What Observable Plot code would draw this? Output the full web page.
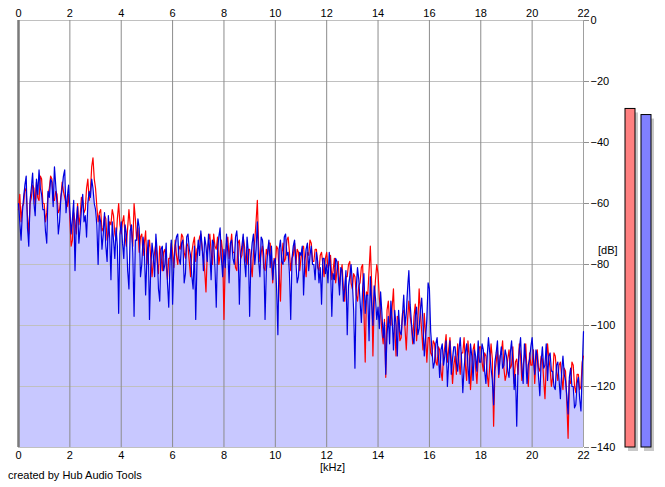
<!DOCTYPE html>
<html>
<head>
<meta charset="utf-8">
<script src="https://cdn.jsdelivr.net/npm/d3@7"></script>
<script src="https://cdn.jsdelivr.net/npm/@observablehq/plot@0.6"></script>
<style>
  html, body { margin: 0; padding: 0; background: #ffffff; }
  #wrap { position: relative; width: 665px; height: 487px; font-family: "Liberation Sans", Arial, sans-serif; font-size: 11px; color: #000; }
  #wrap svg { position: absolute; top: 0; }
  .lbl { position: absolute; white-space: nowrap; font-size: 11px; line-height: 12px; }
</style>
</head>
<body>
<div id="wrap"></div>
<script>
// Frequency grid (kHz), 0.05 kHz steps from 0 to 22
const freqKHz = d3.range(441).map(i => i / 20);

// Right channel (red), dB per 0.05 kHz bin (one row per kHz)
const redDb = [
  -62,-57,-66,-61,-60,-55,-56,-64,-70,-60,-58,-54,-55,-61,-53,-58,-59,-51,-52,-60,
  -60,-66,-63,-57,-55,-51,-52,-59,-59,-56,-57,-63,-62,-58,-53,-56,-58,-60,-61,-57,
  -65,-74,-72,-63,-66,-70,-60,-67,-64,-58,-59,-63,-62,-55,-52,-59,-56,-48,-45,-52,
  -55,-61,-66,-63,-62,-69,-68,-64,-65,-72,-70,-66,-67,-62,-64,-70,-72,-65,-60,-67,
  -70,-66,-64,-71,-74,-68,-62,-67,-69,-74,-60,-65,-72,-68,-76,-71,-70,-77,-73,-69,
  -80,-75,-72,-78,-84,-79,-76,-73,-79,-83,-74,-77,-82,-76,-75,-80,-85,-78,-78,-73,
  -76,-81,-72,-77,-80,-74,-75,-70,-71,-76,-78,-73,-74,-79,-84,-76,-73,-71,-79,-75,
  -74,-71,-70,-75,-77,-82,-89,-76,-72,-70,-76,-80,-70,-74,-75,-71,-80,-77,-72,-76,
  -98,-79,-73,-71,-78,-74,-70,-76,-76,-81,-82,-73,-72,-78,-77,-71,-74,-79,-80,-75,
  -75,-80,-84,-76,-72,-66,-59,-74,-79,-76,-74,-81,-82,-75,-77,-73,-73,-79,-86,-78,
  -80,-74,-75,-83,-92,-77,-73,-79,-78,-72,-71,-76,-82,-78,-77,-73,-80,-75,-76,-82,
  -78,-75,-74,-80,-84,-76,-77,-72,-73,-79,-79,-75,-75,-81,-82,-77,-76,-80,-84,-78,
  -76,-81,-80,-77,-85,-82,-78,-86,-82,-79,-87,-83,-80,-88,-92,-84,-84,-80,-79,-86,
  -88,-83,-84,-90,-92,-87,-86,-81,-80,-95,-112,-89,-90,-82,-74,-86,-110,-92,-85,-80,
  -83,-91,-96,-102,-106,-98,-117,-95,-92,-99,-100,-94,-88,-101,-110,-97,-98,-105,-104,-96,
  -95,-101,-108,-98,-92,-97,-100,-106,-97,-93,-105,-99,-88,-96,-102,-108,-96,-103,-112,-104,
  -104,-109,-110,-105,-106,-112,-113,-107,-108,-115,-118,-110,-107,-103,-112,-108,-104,-111,-119,-113,
  -110,-116,-106,-112,-116,-109,-109,-104,-113,-118,-105,-110,-121,-114,-108,-106,-114,-119,-111,-107,
  -107,-112,-115,-109,-110,-116,-120,-113,-106,-111,-133,-115,-112,-108,-117,-110,-109,-105,-114,-118,
  -116,-111,-108,-114,-113,-107,-119,-112,-111,-116,-106,-110,-118,-113,-110,-106,-115,-120,-109,-113,
  -113,-108,-119,-112,-108,-114,-115,-110,-111,-118,-124,-113,-106,-111,-114,-120,-117,-109,-110,-115,
  -118,-113,-112,-117,-121,-114,-115,-125,-137,-118,-119,-112,-113,-120,-122,-116,-116,-121,-120,-112,
  -110
];

// Left channel (blue), dB per 0.05 kHz bin (one row per kHz)
const blueDb = [
  -60,-66,-72,-63,-58,-54,-51,-68,-74,-59,-55,-50,-60,-64,-52,-57,-49,-55,-57,-62,
  -62,-69,-73,-56,-58,-52,-53,-61,-48,-54,-60,-70,-66,-58,-55,-51,-49,-63,-58,-54,
  -62,-70,-65,-59,-82,-66,-61,-73,-68,-62,-57,-66,-64,-71,-60,-56,-58,-52,-55,-60,
  -62,-67,-80,-64,-66,-75,-70,-63,-74,-79,-64,-71,-85,-66,-72,-78,-68,-74,-96,-70,
  -66,-73,-78,-67,-70,-82,-88,-69,-67,-76,-97,-72,-72,-65,-68,-84,-80,-71,-75,-90,
  -78,-72,-98,-81,-73,-77,-84,-70,-76,-88,-92,-75,-74,-82,-80,-73,-86,-94,-79,-72,
  -93,-80,-74,-71,-70,-78,-80,-73,-72,-86,-83,-71,-70,-75,-77,-84,-88,-74,-98,-79,
  -72,-77,-69,-74,-82,-71,-74,-79,-70,-76,-85,-72,-73,-81,-94,-75,-71,-68,-78,-84,
  -75,-81,-70,-76,-86,-73,-72,-78,-80,-71,-69,-75,-93,-77,-74,-70,-79,-84,-71,-76,
  -97,-78,-73,-70,-80,-75,-66,-79,-84,-71,-72,-77,-98,-82,-76,-72,-81,-74,-85,-79,
  -78,-88,-103,-75,-72,-79,-80,-71,-70,-77,-76,-83,-98,-78,-74,-72,-79,-86,-84,-76,
  -77,-74,-90,-79,-75,-73,-82,-77,-74,-80,-80,-85,-76,-79,-86,-81,-93,-78,-78,-83,
  -80,-86,-76,-81,-97,-83,-85,-78,-79,-84,-90,-81,-82,-92,-88,-82,-103,-87,-84,-80,
  -86,-95,-114,-88,-81,-85,-92,-99,-88,-83,-96,-90,-90,-105,-84,-93,-100,-87,-91,-98,
  -94,-101,-89,-96,-104,-99,-116,-103,-97,-106,-92,-98,-108,-95,-100,-110,-95,-102,-103,-97,
  -90,-100,-96,-88,-82,-93,-99,-104,-106,-97,-94,-103,-101,-95,-91,-99,-110,-104,-98,-86,
  -88,-102,-108,-114,-112,-106,-104,-110,-117,-108,-106,-113,-110,-105,-120,-112,-105,-116,-111,-107,
  -107,-112,-115,-108,-104,-111,-122,-114,-109,-106,-113,-119,-106,-110,-118,-108,-110,-115,-105,-112,
  -112,-106,-108,-115,-119,-110,-104,-109,-114,-118,-126,-112,-109,-105,-116,-111,-107,-114,-113,-108,
  -110,-115,-117,-109,-105,-112,-121,-116,-133,-114,-108,-104,-114,-119,-106,-111,-119,-113,-111,-107,
  -104,-111,-116,-108,-110,-117,-123,-112,-107,-114,-113,-106,-118,-110,-109,-115,-115,-120,-121,-113,
  -112,-118,-124,-115,-110,-116,-118,-123,-129,-117,-114,-120,-120,-127,-126,-119,-117,-124,-128,-115,
  -102
];

// Axis ticks
const xTicks = [0, 2, 4, 6, 8, 10, 12, 14, 16, 18, 20, 22];
const yTicks = [0, -20, -40, -60, -80, -100, -120, -140];

// Level meters
const meterChannels = ["R", "L"];
const meterLevels = [-29, -31];

const red = freqKHz.map((f, i) => ({f, db: redDb[i]}));
const blue = freqKHz.map((f, i) => ({f, db: blueDb[i]}));
const meters = meterChannels.map((ch, i) => ({ch, db: meterLevels[i]}));

const font = {fontFamily: '"Liberation Sans", Arial, sans-serif', fontSize: "11px", color: "#000", background: "transparent", overflow: "visible"};

const main = Plot.plot({
  width: 665, height: 487,
  marginLeft: 18, marginRight: 82, marginTop: 20, marginBottom: 40,
  style: font,
  x: {domain: [0, 22]},
  y: {domain: [-140, 0]},
  marks: [
    Plot.areaY(blue, {x: "f", y1: () => -140, y2: "db", fill: "#c8c8ff", curve: "linear"}),
    Plot.gridY({ticks: yTicks, stroke: "#c0c0c0", strokeOpacity: 1}),
    Plot.gridX({ticks: xTicks, stroke: "#8c8c8c", strokeOpacity: 1}),
    Plot.ruleX([0], {stroke: "#7a7a7a", strokeWidth: 2.5}),
    Plot.ruleX([22], {stroke: "#a0a0a0", y1: -140, y2: 0}),
    Plot.line(red, {x: "f", y: "db", stroke: "#ff0000", strokeWidth: 1.2}),
    Plot.line(blue, {x: "f", y: "db", stroke: "#0000e0", strokeWidth: 1.2}),
    Plot.axisX({anchor: "top", ticks: xTicks, tickSize: 0, tickPadding: 4, label: null, fill: "#000"}),
    Plot.axisX({anchor: "bottom", ticks: xTicks, tickSize: 0, tickPadding: 4, label: null, fill: "#000"}),
    Plot.axisY({anchor: "right", ticks: yTicks, tickSize: 5, tickPadding: 2, label: null, stroke: "#909090", fill: "#000"})
  ]
});
main.style.left = "0px";

const meterPlot = Plot.plot({
  width: 50, height: 487,
  marginLeft: 10, marginRight: 14, marginTop: 20, marginBottom: 40,
  style: font,
  x: {type: "band", domain: meterChannels, paddingInner: 0.4, paddingOuter: 0, axis: null},
  y: {domain: [-140, 0], axis: null},
  color: {domain: meterChannels, range: ["#ff8080", "#8080ff"]},
  marks: [
    Plot.barY(meters, {x: "ch", y1: () => -140, y2: "db", fill: "#c8c8c8", dx: 3, dy: 4}),
    Plot.barY(meters, {x: "ch", y1: () => -140, y2: "db", fill: "ch", stroke: "#000", strokeWidth: 1})
  ]
});
meterPlot.style.left = "615px";

const wrap = document.getElementById("wrap");
wrap.appendChild(main);
wrap.appendChild(meterPlot);

function addLabel(text, left, top) {
  const d = document.createElement("div");
  d.className = "lbl";
  d.textContent = text;
  d.style.left = left + "px";
  d.style.top = top + "px";
  wrap.appendChild(d);
}
addLabel("[dB]", 598, 244);
addLabel("[kHz]", 320, 461);
addLabel("created by Hub Audio Tools", 8, 469);
</script>
</body>
</html>
